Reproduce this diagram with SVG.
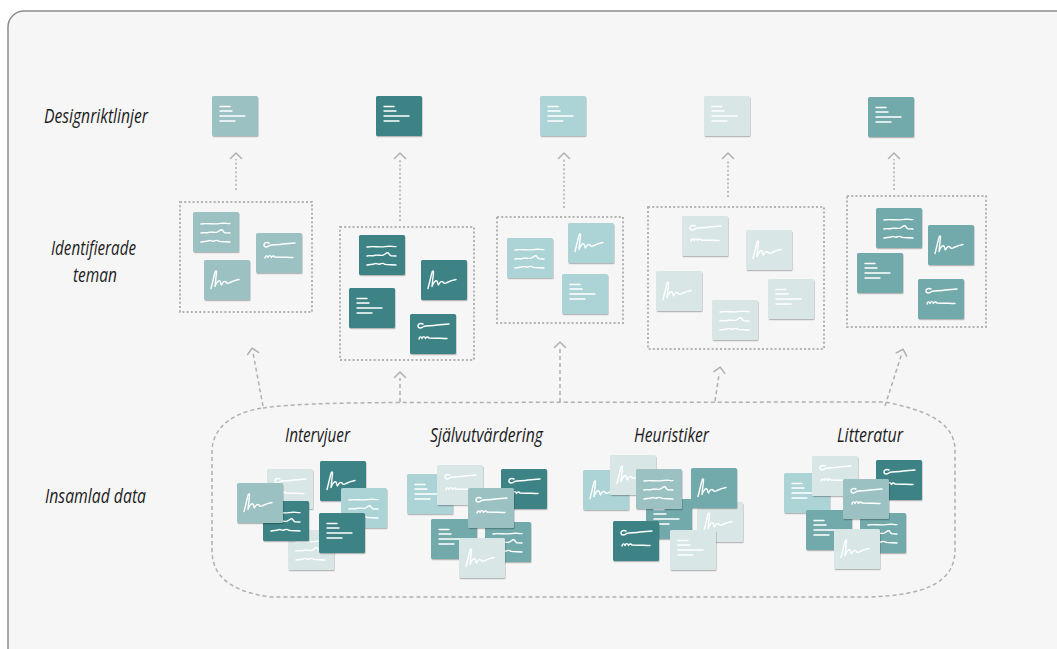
<svg xmlns="http://www.w3.org/2000/svg" xmlns:xlink="http://www.w3.org/1999/xlink" width="1057" height="649" viewBox="0 0 1057 649">
<style>
.lbl{font-family:"Liberation Sans Narrow","Open Sans","Liberation Sans",sans-serif;font-style:italic;font-size:20.5px;fill:#1c1c1c}
.mid{text-anchor:middle}
.c{filter:url(#sh)}
.k1{fill:#3d8386}.k2{fill:#72a9ab}.k3{fill:#9cc1c2}.k4{fill:#acd4d6}.k5{fill:#d9e6e6}
.gl{fill:none;stroke:#fff;stroke-width:1.4;stroke-linecap:round;stroke-linejoin:round}
.box{fill:none;stroke:#b3b3b3;stroke-width:2;stroke-dasharray:2 2.2}
.dot{fill:none;stroke:#b3b3b3;stroke-width:1.6;stroke-dasharray:2 2.2;marker-end:url(#chev)}
.dash{fill:none;stroke:#b0b0b0;stroke-width:1.5;stroke-dasharray:4 3;marker-end:url(#chev)}
.blob{fill:none;stroke:#b0b0b0;stroke-width:1.5;stroke-dasharray:4 3}
</style>
<defs>
<filter id="sh" x="-10%" y="-10%" width="125%" height="130%">
<feDropShadow dx="0.6" dy="1.2" stdDeviation="0.6" flood-color="#000" flood-opacity="0.25"/>
</filter>
<marker id="chev" markerUnits="userSpaceOnUse" markerWidth="16" markerHeight="16" viewBox="-8 -8 16 16" refX="-6" refY="0" orient="auto" overflow="visible">
<path d="M-5.5,-5.5 L0,0 L-5.5,5.5" fill="none" stroke="#b0b0b0" stroke-width="1.5" stroke-linecap="round" stroke-linejoin="round"/>
</marker>
<g id="lines" class="gl"><path d="M8,10.5h10 M8,15h12 M8,20h25 M8,25h15"/></g>
<g id="wavy" class="gl"><path d="M8,12 C14,10.8 20,12.6 26,11.6 S33,11.8 37,11.6"/><path d="M8,21 C11,20 13,21.5 16,20.3 C19,19.5 21,21 24,20.2 C26,19.5 27,17.5 29,17.8 C30,18 30.5,20.5 32,20.8 L37,21"/><path d="M8,30 C11,29 13,30 16,28.6 C18,27.8 19,30 21,29 C23,28 24,27.6 26,29.4 C29,30 33,29.6 37,30"/></g>
<g id="co" class="gl"><path d="M13,10 C10,8.5 7.5,10.5 8,12.5 C8.5,14.5 11.5,14.5 13.5,12.5 C17,11.5 22,12 27,11 L39,10"/><path d="M9,25 C9.5,22.5 11,22 12,24.5 C13,22 14.5,22 15.5,24.5 C16.5,22.5 18,22.5 19,24 C24,24 30,24.3 37,24.5"/></g>
<g id="sig" class="gl"><path d="M7,28.5 C8.5,23 10,16 11,12.5 C11.5,10 13,10.5 12.5,13 C12,17 11.5,22 11,26.5 C12.5,22.5 14.5,20 16,21 C17,22 16.5,25 17.5,25 C19,22 20.5,20.5 22,22 C23,23.5 24,24 26,22.5 C29,21 32,20 35,19.5"/></g>
<rect id="card" width="46" height="40" rx="1.5"/>
</defs>

<rect x="0" y="0" width="1057" height="649" fill="#ffffff"/>
<rect x="8" y="11" width="1090" height="670" rx="16" fill="#f6f6f6" stroke="#8c8c8c" stroke-width="1.5"/>

<g id="labels">
<text class="lbl" x="44" y="123" textLength="104" lengthAdjust="spacingAndGlyphs">Designriktlinjer</text>
<text class="lbl" x="51" y="255" textLength="85" lengthAdjust="spacingAndGlyphs">Identifierade</text>
<text class="lbl" x="73" y="282" textLength="44" lengthAdjust="spacingAndGlyphs">teman</text>
<text class="lbl" x="45" y="503" textLength="101" lengthAdjust="spacingAndGlyphs">Insamlad data</text>
</g>

<g id="connectors">
<path class="dot" d="M236,190 L236,159"/>
<path class="dot" d="M400,221 L400,159"/>
<path class="dot" d="M564,208 L564,159"/>
<path class="dot" d="M728,197 L728,159"/>
<path class="dot" d="M894,190 L894,159"/>
<path class="dash" d="M263,406 L253.2,354"/>
<path class="dash" d="M400,402 L400,378"/>
<path class="dash" d="M560,402 L560,348"/>
<path class="dash" d="M715,401 L719.3,373"/>
<path class="dash" d="M885,406 L901.3,355"/>
</g>

<g id="guidelines">
<g id="g1" transform="translate(212,96)"><use href="#card" class="c k3"/><use href="#lines"/></g>
<g id="g2" transform="translate(376,96)"><use href="#card" class="c k1"/><use href="#lines"/></g>
<g id="g3" transform="translate(540,96)"><use href="#card" class="c k4"/><use href="#lines"/></g>
<g id="g4" transform="translate(704,96)"><use href="#card" class="c k5"/><use href="#lines"/></g>
<g id="g5" transform="translate(868,97)"><use href="#card" class="c k2"/><use href="#lines"/></g>
</g>

<g id="theme1">
<rect class="box" x="180" y="202" width="132" height="110"/>
<g transform="translate(193,212)"><use href="#card" class="c k3"/><use href="#wavy"/></g>
<g transform="translate(256,233)"><use href="#card" class="c k3"/><use href="#co"/></g>
<g transform="translate(204,260)"><use href="#card" class="c k3"/><use href="#sig"/></g>
</g>
<g id="theme2">
<rect class="box" x="340" y="227" width="134" height="133"/>
<g transform="translate(359,235)"><use href="#card" class="c k1"/><use href="#wavy"/></g>
<g transform="translate(421,260)"><use href="#card" class="c k1"/><use href="#sig"/></g>
<g transform="translate(349,288)"><use href="#card" class="c k1"/><use href="#lines"/></g>
<g transform="translate(410,314)"><use href="#card" class="c k1"/><use href="#co"/></g>
</g>
<g id="theme3">
<rect class="box" x="497" y="217" width="126" height="106"/>
<g transform="translate(507,238)"><use href="#card" class="c k4"/><use href="#wavy"/></g>
<g transform="translate(568,223)"><use href="#card" class="c k4"/><use href="#sig"/></g>
<g transform="translate(562,274)"><use href="#card" class="c k4"/><use href="#lines"/></g>
</g>
<g id="theme4">
<rect class="box" x="648" y="207" width="176" height="142"/>
<g transform="translate(682,216)"><use href="#card" class="c k5"/><use href="#co"/></g>
<g transform="translate(746,230)"><use href="#card" class="c k5"/><use href="#sig"/></g>
<g transform="translate(656,271)"><use href="#card" class="c k5"/><use href="#sig"/></g>
<g transform="translate(768,279)"><use href="#card" class="c k5"/><use href="#lines"/></g>
<g transform="translate(712,300)"><use href="#card" class="c k5"/><use href="#wavy"/></g>
</g>
<g id="theme5">
<rect class="box" x="847" y="196" width="139" height="131"/>
<g transform="translate(876,208)"><use href="#card" class="c k2"/><use href="#wavy"/></g>
<g transform="translate(928,225)"><use href="#card" class="c k2"/><use href="#sig"/></g>
<g transform="translate(857,253)"><use href="#card" class="c k2"/><use href="#lines"/></g>
<g transform="translate(918,279)"><use href="#card" class="c k2"/><use href="#co"/></g>
</g>

<g id="data">
<path class="blob" d="M263,408 C290,404 330,403 400,402.5 L885,402 C920,409 955,420 955,450 L955,550 C955,584 922,595 870,597 L270,597 C236,592 212,580 212,550 L212,452 C212,426 235,412 263,408 Z"/>
<g id="interviews">
<text class="lbl mid" x="317.5" y="442" textLength="65" lengthAdjust="spacingAndGlyphs">Intervjuer</text>
<g transform="translate(267,469)"><use href="#card" class="c k5"/><use href="#co"/></g>
<g transform="translate(320,461)"><use href="#card" class="c k1"/><use href="#sig"/></g>
<g transform="translate(341,488)"><use href="#card" class="c k4"/><use href="#wavy"/></g>
<g transform="translate(288,530)"><use href="#card" class="c k5"/><use href="#wavy"/></g>
<g transform="translate(263,501)"><use href="#card" class="c k1"/><use href="#wavy"/></g>
<g transform="translate(237,483)"><use href="#card" class="c k3"/><use href="#sig"/></g>
<g transform="translate(319,513)"><use href="#card" class="c k1"/><use href="#lines"/></g>
</g>
<g id="selfassessment">
<text class="lbl mid" x="486.5" y="442" textLength="113" lengthAdjust="spacingAndGlyphs">Självutvärdering</text>
<g transform="translate(407,474)"><use href="#card" class="c k4"/><use href="#lines"/></g>
<g transform="translate(437,465)"><use href="#card" class="c k5"/><use href="#co"/></g>
<g transform="translate(501,469)"><use href="#card" class="c k1"/><use href="#co"/></g>
<g transform="translate(485,522)"><use href="#card" class="c k2"/><use href="#wavy"/></g>
<g transform="translate(431,519)"><use href="#card" class="c k2"/><use href="#lines"/></g>
<g transform="translate(468,488)"><use href="#card" class="c k3"/><use href="#co"/></g>
<g transform="translate(459,538)"><use href="#card" class="c k5"/><use href="#sig"/></g>
</g>
<g id="heuristics">
<text class="lbl mid" x="671.5" y="442" textLength="75" lengthAdjust="spacingAndGlyphs">Heuristiker</text>
<g transform="translate(583,470)"><use href="#card" class="c k4"/><use href="#sig"/></g>
<g transform="translate(610,455)"><use href="#card" class="c k5"/><use href="#sig"/></g>
<g transform="translate(646,499)"><use href="#card" class="c k2"/><use href="#lines"/></g>
<g transform="translate(636,469)"><use href="#card" class="c k3"/><use href="#wavy"/></g>
<g transform="translate(697,502)"><use href="#card" class="c k5"/><use href="#sig"/></g>
<g transform="translate(691,468)"><use href="#card" class="c k2"/><use href="#sig"/></g>
<g transform="translate(613,521)"><use href="#card" class="c k1"/><use href="#co"/></g>
<g transform="translate(670,530)"><use href="#card" class="c k5"/><use href="#lines"/></g>
</g>
<g id="literature">
<text class="lbl mid" x="870" y="442" textLength="66" lengthAdjust="spacingAndGlyphs">Litteratur</text>
<g transform="translate(784,473)"><use href="#card" class="c k4"/><use href="#lines"/></g>
<g transform="translate(812,456)"><use href="#card" class="c k5"/><use href="#co"/></g>
<g transform="translate(876,460)"><use href="#card" class="c k1"/><use href="#co"/></g>
<g transform="translate(860,513)"><use href="#card" class="c k2"/><use href="#wavy"/></g>
<g transform="translate(806,510)"><use href="#card" class="c k2"/><use href="#lines"/></g>
<g transform="translate(843,479)"><use href="#card" class="c k3"/><use href="#co"/></g>
<g transform="translate(834,529)"><use href="#card" class="c k5"/><use href="#sig"/></g>
</g>
</g>
</svg>
